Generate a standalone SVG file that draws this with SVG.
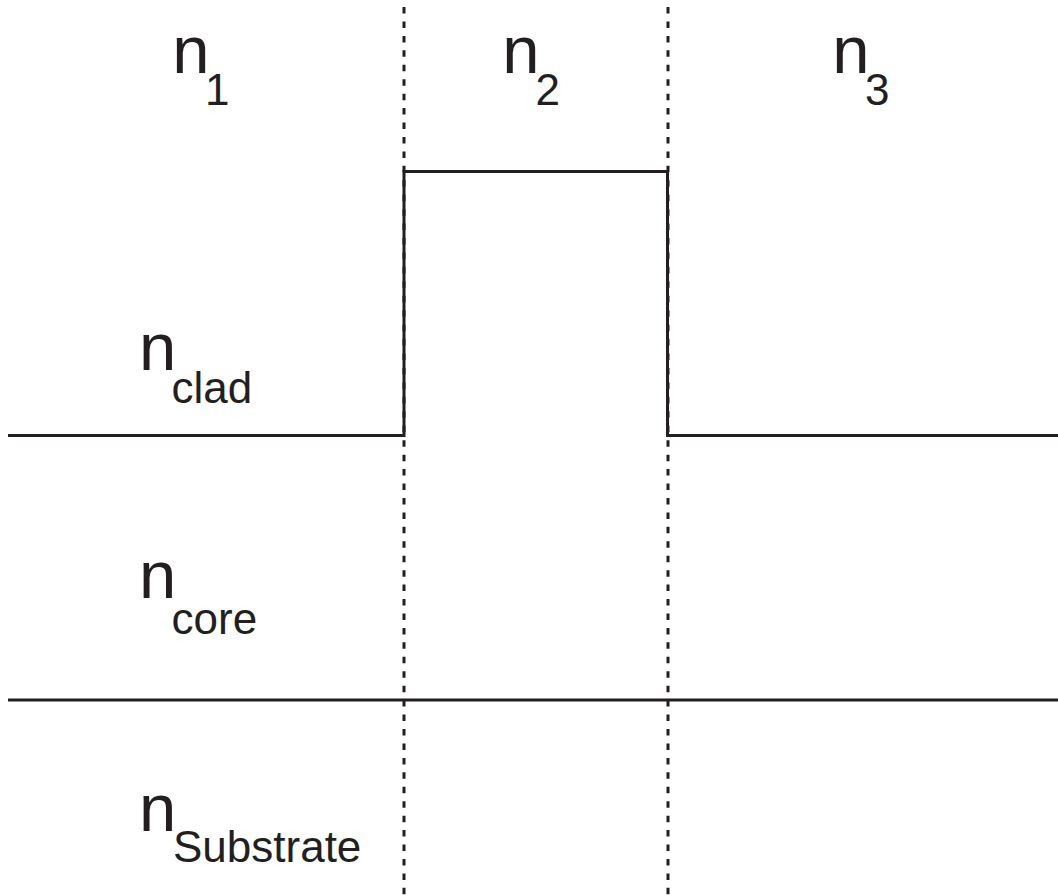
<svg xmlns="http://www.w3.org/2000/svg" width="1058" height="896" viewBox="0 0 1058 896">
<style>
.big{font-family:"Liberation Sans",Arial,sans-serif;font-size:67px;fill:#231f20}
.sub{font-family:"Liberation Sans",Arial,sans-serif;font-size:44px;fill:#231f20}
.dash{stroke:#231f20;stroke-width:3;stroke-dasharray:6.5 7.94;fill:none}
.solid{stroke:#231f20;stroke-width:3;fill:none}
</style>
<rect width="1058" height="896" fill="#ffffff"/>
<g id="connectors">
<line class="dash" x1="404" y1="7" x2="404" y2="896"/>
<line class="dash" x1="668" y1="7" x2="668" y2="896"/>
<path class="solid" d="M8,435.5 H404 V171.5 H667.5 V435.5 H1058"/>
<line class="solid" x1="8" y1="700" x2="1058" y2="700"/>
</g>
<g id="n1"><text class="big" x="172.3" y="73">n</text><text class="sub" x="205" y="105">1</text></g>
<g id="n2"><text class="big" x="502.3" y="73">n</text><text class="sub" x="535.4" y="105">2</text></g>
<g id="n3"><text class="big" x="832.3" y="73">n</text><text class="sub" x="865" y="105">3</text></g>
<g id="nclad"><text class="big" x="139" y="370">n</text><text class="sub" x="171.6" y="403">clad</text></g>
<g id="ncore"><text class="big" x="139" y="598">n</text><text class="sub" x="171.6" y="634">core</text></g>
<g id="nsubstrate"><text class="big" x="139" y="831">n</text><text class="sub" x="173" y="862">Substrate</text></g>
</svg>
